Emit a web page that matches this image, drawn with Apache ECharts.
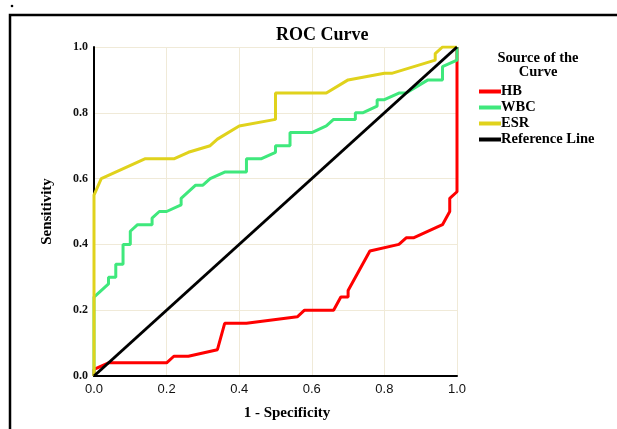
<!DOCTYPE html>
<html>
<head>
<meta charset="utf-8">
<script src="https://cdn.jsdelivr.net/npm/echarts@6/dist/echarts.min.js"></script>
<style>
  html, body { margin: 0; padding: 0; background: #fff; }
  #rocChart { width: 617px; height: 429px; }
</style>
</head>
<body>
<div id="rocChart"></div>
<script>
// points: [1 - specificity, sensitivity]
var hbPoints = [
  [0, 0], [0, 0.02], [0.04, 0.04], [0.20, 0.04], [0.22, 0.06], [0.26, 0.06],
  [0.34, 0.08], [0.36, 0.16], [0.42, 0.16], [0.56, 0.18], [0.58, 0.20],
  [0.66, 0.20], [0.68, 0.24], [0.70, 0.24], [0.70, 0.26], [0.76, 0.38],
  [0.84, 0.40], [0.86, 0.42], [0.88, 0.42], [0.96, 0.46], [0.98, 0.50],
  [0.98, 0.54], [1.0, 0.56], [1.0, 1.0]
];
var wbcPoints = [
  [0, 0], [0, 0.24], [0.04, 0.28], [0.04, 0.30], [0.06, 0.30], [0.06, 0.34],
  [0.08, 0.34], [0.08, 0.40], [0.10, 0.40], [0.10, 0.44], [0.12, 0.46],
  [0.16, 0.46], [0.16, 0.48], [0.18, 0.50], [0.20, 0.50], [0.24, 0.52],
  [0.24, 0.54], [0.28, 0.58], [0.30, 0.58], [0.32, 0.60], [0.36, 0.62],
  [0.42, 0.62], [0.42, 0.66], [0.46, 0.66], [0.50, 0.68], [0.50, 0.70],
  [0.54, 0.70], [0.54, 0.74], [0.60, 0.74], [0.64, 0.76], [0.66, 0.78],
  [0.72, 0.78], [0.72, 0.80], [0.74, 0.80], [0.78, 0.82], [0.78, 0.84],
  [0.80, 0.84], [0.84, 0.86], [0.86, 0.86], [0.92, 0.90], [0.96, 0.90],
  [0.96, 0.94], [1.0, 0.96], [1.0, 1.0]
];
var esrPoints = [
  [0, 0], [0, 0.55], [0.02, 0.60], [0.14, 0.66], [0.22, 0.66], [0.26, 0.68],
  [0.32, 0.70], [0.34, 0.72], [0.40, 0.76], [0.50, 0.78], [0.50, 0.86],
  [0.64, 0.86], [0.70, 0.90], [0.80, 0.92], [0.82, 0.92], [0.94, 0.96],
  [0.94, 0.98], [0.96, 1.0], [1.0, 1.0]
];
var refPoints = [[0, 0], [1, 1]];
var seriesNames = ['HB', 'WBC', 'ESR', 'Reference Line'];
var seriesColors = ['#ff0000', '#3fe87c', '#e0d21c', '#000000'];
var tickLabels = ['0.0', '0.2', '0.4', '0.6', '0.8', '1.0'];

var myChart = echarts.init(document.getElementById('rocChart'));
var serif = '"Liberation Serif", "DejaVu Serif", serif';
var allPoints = [hbPoints, wbcPoints, esrPoints, refPoints];

var series = [];
for (var i = 0; i < seriesNames.length; i++) {
  series.push({
    name: seriesNames[i],
    type: 'line',
    data: allPoints[i],
    showSymbol: false,
    symbol: 'none',
    animation: false,
    lineStyle: { color: seriesColors[i], width: 3 },
    itemStyle: { color: seriesColors[i] },
    z: 2 + i  // later series drawn on top, reference line last
  });
}

function tickText(v) {
  return tickLabels[Math.round(v * 5)];
}

var option = {
  backgroundColor: '#ffffff',
  animation: false,
  title: {
    text: 'ROC Curve',
    left: 271,
    top: 21,
    textStyle: { fontFamily: serif, fontWeight: 'bold', fontSize: 18, color: '#000' }
  },
  grid: { left: 94, right: 160, top: 47, bottom: 53 },
  legend: {
    orient: 'vertical',
    left: 474,
    top: 79,
    itemGap: 1,
    itemWidth: 22,
    itemHeight: 4,
    icon: 'rect',
    data: seriesNames,
    textStyle: {
      fontFamily: serif, fontWeight: 'bold', fontSize: 14.5, lineHeight: 14,
      color: '#000', padding: [0, 0, 0, -5]
    }
  },
  xAxis: {
    type: 'value',
    min: 0,
    max: 1,
    interval: 0.2,
    axisLine: { show: true, onZero: false, lineStyle: { color: '#000', width: 2 } },
    axisTick: { show: false },
    axisLabel: {
      margin: 7,
      formatter: tickText,
      fontFamily: '"Liberation Sans", Arial, sans-serif',
      fontSize: 13,
      color: '#111'
    },
    splitLine: { show: true, lineStyle: { color: '#f0ead8', width: 1 } }
  },
  yAxis: {
    type: 'value',
    min: 0,
    max: 1,
    interval: 0.2,
    name: 'Sensitivity',
    nameLocation: 'middle',
    nameGap: 39,
    nameTextStyle: { fontFamily: serif, fontWeight: 'bold', fontSize: 15, color: '#000' },
    axisLine: { show: true, onZero: false, lineStyle: { color: '#000', width: 2 } },
    axisTick: { show: false },
    axisLabel: {
      margin: 6,
      formatter: tickText,
      fontFamily: serif,
      fontWeight: 'bold',
      fontSize: 12,
      color: '#111'
    },
    splitLine: { show: true, lineStyle: { color: '#f0ead8', width: 1 } }
  },
  graphic: [
    {
      type: 'polyline',
      shape: { points: [[10, 429], [10, 15], [617, 15]] },
      style: { stroke: '#000', lineWidth: 2.5, fill: null },
      silent: true
    },
    {
      type: 'circle',
      shape: { cx: 12, cy: 6, r: 1.3 },
      style: { fill: '#000' },
      silent: true
    },
    {
      type: 'text',
      x: 538,
      y: 51,
      style: {
        text: 'Source of the\nCurve',
        align: 'center',
        fontFamily: serif,
        fontWeight: 'bold',
        fontSize: 14.5,
        lineHeight: 14,
        fill: '#000'
      },
      silent: true
    },
    {
      // x axis title sits a bit right of the plot centre in the picture
      type: 'text',
      x: 287,
      y: 406,
      style: {
        text: '1 - Specificity',
        align: 'center',
        fontFamily: serif,
        fontWeight: 'bold',
        fontSize: 15,
        fill: '#000'
      },
      silent: true
    }
  ],
  series: series
};

myChart.setOption(option);
</script>
</body>
</html>
